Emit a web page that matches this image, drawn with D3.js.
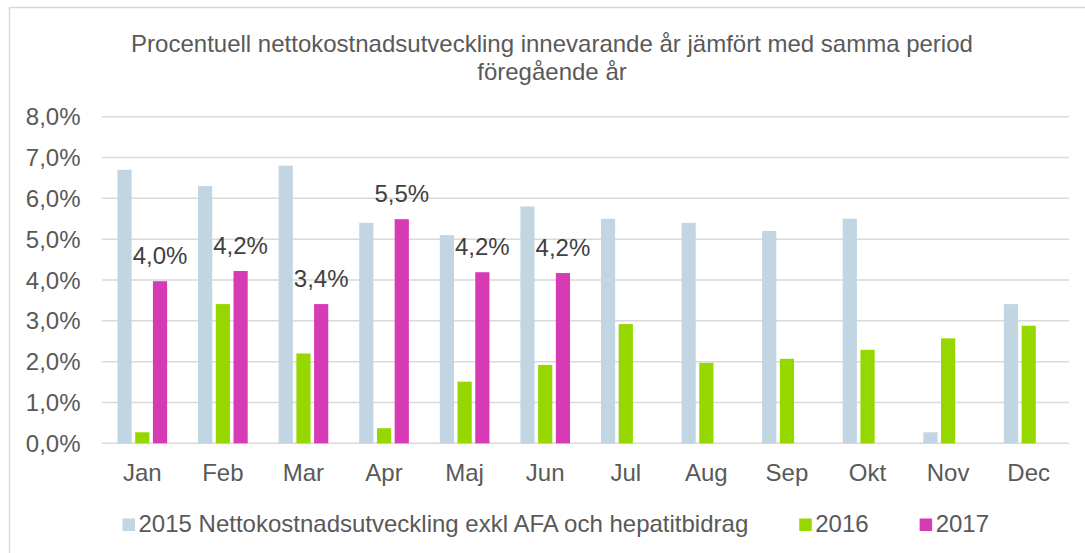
<!DOCTYPE html>
<html>
<head>
<meta charset="utf-8">
<script src="https://cdn.jsdelivr.net/npm/d3@7/dist/d3.min.js"></script>
<style>
  body { margin: 0; background: #fff; }
  svg { display: block; font-family: "Liberation Sans", Arial, sans-serif; }
</style>
</head>
<body>
<div id="chart"></div>
<script>
// data (percent)
const months = ["Jan", "Feb", "Mar", "Apr", "Maj", "Jun", "Jul", "Aug", "Sep", "Okt", "Nov", "Dec"];
const v2015 = [6.7, 6.3, 6.8, 5.4, 5.1, 5.8, 5.5, 5.4, 5.2, 5.5, 0.27, 3.41];
const v2016 = [0.27, 3.41, 2.2, 0.37, 1.51, 1.92, 2.92, 1.97, 2.07, 2.29, 2.57, 2.88];
const v2017 = [3.97, 4.22, 3.41, 5.49, 4.19, 4.17];
const seriesNames = ["2015 Nettokostnadsutveckling exkl AFA och hepatitbidrag", "2016", "2017"];
const seriesColors = ["#c1d6e2", "#97d700", "#d63ab5"];
const yTicks = [0, 1, 2, 3, 4, 5, 6, 7, 8];
const titleLines = ["Procentuell nettokostnadsutveckling innevarande år jämfört med samma period", "föregående år"];

const W = 1085, H = 553;
const plot = { left: 102, right: 1069, top: 116.7, bottom: 443.3 };
const fontSize = "24px";

const svg = d3.select("#chart").append("svg")
  .attr("width", W)
  .attr("height", H);

// chart area border (right/bottom fall outside the picture)
svg.append("rect")
  .attr("x", 9.5).attr("y", 7.5)
  .attr("width", W + 20).attr("height", H + 20)
  .attr("fill", "none")
  .attr("stroke", "#d9d9d9")
  .attr("stroke-width", 1.5);

// title
svg.append("text")
  .attr("x", 552)
  .attr("y", 51.5)
  .attr("text-anchor", "middle")
  .attr("fill", "#595959")
  .style("font-size", fontSize)
  .selectAll("tspan")
  .data(titleLines)
  .join("tspan")
  .attr("x", 552)
  .attr("dy", (d, i) => i === 0 ? 0 : 28.5)
  .text(d => d);

const x = d3.scaleBand()
  .domain(months)
  .range([plot.left, plot.right])
  .paddingInner(0.34)
  .paddingOuter(0.17);

const x1 = d3.scaleBand()
  .domain([0, 1, 2])
  .range([0, x.bandwidth()])
  .paddingInner(0.2)
  .paddingOuter(0.1);

const y = d3.scaleLinear()
  .domain([0, 8])
  .range([plot.bottom, plot.top]);

const pct = v => d3.format(".1f")(v).replace(".", ",") + "%";

// gridlines
svg.append("g")
  .selectAll("line")
  .data(yTicks)
  .join("line")
  .attr("x1", plot.left)
  .attr("x2", plot.right)
  .attr("y1", d => y(d))
  .attr("y2", d => y(d))
  .attr("stroke", "#d9d9d9")
  .attr("stroke-width", 1.5);

// y tick labels
svg.append("g")
  .selectAll("text")
  .data(yTicks)
  .join("text")
  .attr("x", 80.5)
  .attr("y", d => y(d))
  .attr("dy", "0.36em")
  .attr("text-anchor", "end")
  .attr("fill", "#595959")
  .style("font-size", fontSize)
  .text(d => pct(d));

// month labels
svg.append("g")
  .selectAll("text")
  .data(months)
  .join("text")
  .attr("x", d => x(d) + x.bandwidth() / 2)
  .attr("y", 480.5)
  .attr("text-anchor", "middle")
  .attr("fill", "#595959")
  .style("font-size", fontSize)
  .text(d => d);

// bars
const series = [v2015, v2016, v2017];
const barData = [];
series.forEach((vals, s) => {
  vals.forEach((v, i) => barData.push({ month: months[i], s: s, v: v }));
});

svg.append("g")
  .selectAll("rect")
  .data(barData)
  .join("rect")
  .attr("x", d => x(d.month) + x1(d.s))
  .attr("y", d => y(d.v))
  .attr("width", x1.bandwidth())
  .attr("height", d => y(0) - y(d.v))
  .attr("fill", d => seriesColors[d.s]);

// data labels for 2017
svg.append("g")
  .selectAll("text")
  .data(v2017)
  .join("text")
  .attr("x", (d, i) => x(months[i]) + x1(2) + x1.bandwidth() / 2)
  .attr("y", d => y(d) - 17)
  .attr("text-anchor", "middle")
  .attr("fill", "#404040")
  .style("font-size", fontSize)
  .text(d => pct(d));

// legend
const legend = svg.append("g").attr("transform", "translate(122.5,531.5)");
let lx = 0;
seriesNames.forEach((name, i) => {
  const g = legend.append("g").attr("transform", `translate(${lx},0)`);
  g.append("rect")
    .attr("x", 0).attr("y", -13)
    .attr("width", 12.5).attr("height", 12.5)
    .attr("fill", seriesColors[i]);
  const t = g.append("text")
    .attr("x", 16)
    .attr("y", 0)
    .attr("fill", "#595959")
    .style("font-size", fontSize)
    .text(name);
  lx += 16 + t.node().getComputedTextLength() + 51;
});
</script>
</body>
</html>
